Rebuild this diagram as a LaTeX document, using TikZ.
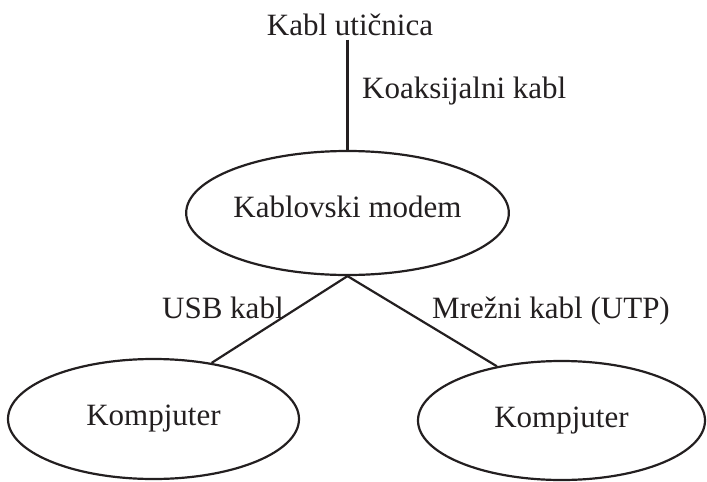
\documentclass[tikz,border=0pt]{standalone}
\usepackage{fontspec}
\setmainfont{Liberation Serif}
\usetikzlibrary{shapes.geometric}
\definecolor{ink}{HTML}{231F20}
\tikzset{
  lbl/.style={text=ink, font=\fontsize{31}{36}\selectfont, inner sep=0pt},
  oval/.style={ellipse, draw=ink, line width=2.2pt, inner sep=0pt, text=ink,
               font=\fontsize{31}{36}\selectfont},
  wire/.style={draw=ink, line width=2.2pt}
}
\begin{document}
\begin{tikzpicture}[x=1pt, y=-1pt]
  \useasboundingbox (0,0) rectangle (707,482);

  % cable outlet and coaxial cable
  \node[lbl, anchor=base, inner ysep=4pt] (plug) at (350,35) {Kabl utičnica};
  \node[lbl, anchor=base west] (coax) at (362,98) {Koaksijalni kabl};

  % cable modem
  \node[oval, minimum width=293pt, minimum height=124pt, text depth=13pt]
       (modem) at (347.5,213) {Kablovski modem};

  % computers
  \node[oval, minimum width=291pt, minimum height=120pt] (pcl) at (153.5,419) {Kompjuter};
  \node[oval, minimum width=287pt, minimum height=119pt] (pcr) at (561.5,420.5) {Kompjuter};

  % cable labels
  \node[lbl, anchor=base west] (usb) at (162,318) {USB kabl};
  \node[lbl, anchor=base west] (utp) at (432,318) {Mrežni kabl (UTP)};

  % connectors
  \draw[wire] (plug.south -| modem.north) -- (modem.north);
  \draw[wire] (modem.south) -- (pcl.44);
  \draw[wire] (modem.south) -- (pcr.140);
\end{tikzpicture}
\end{document}
